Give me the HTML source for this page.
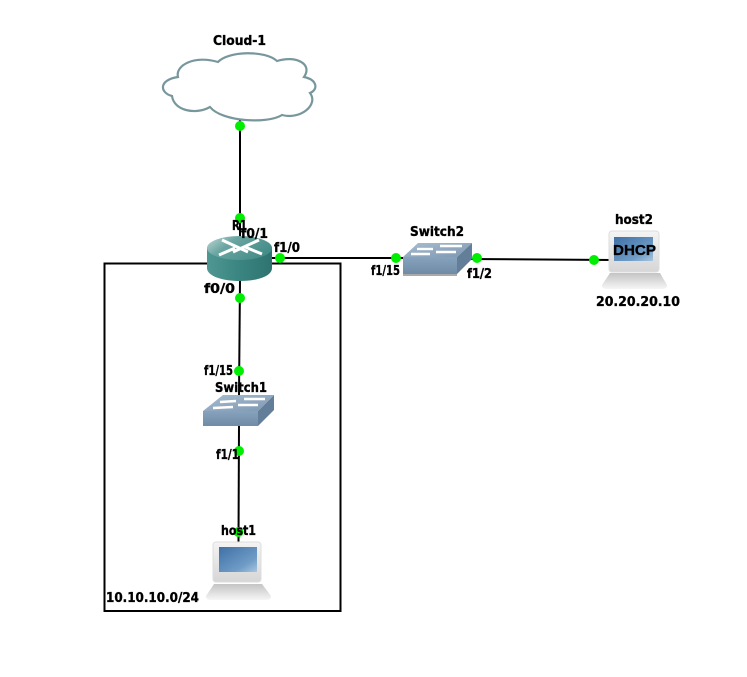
<!DOCTYPE html>
<html>
<head>
<meta charset="utf-8">
<style>
html,body{margin:0;padding:0;background:#fff}
svg{display:block}
text{font-family:"DejaVu Sans","Liberation Sans",sans-serif;font-weight:bold;font-size:13px;fill:#000;stroke:#000;stroke-width:0.35}
</style>
</head>
<body>
<svg width="747" height="677" viewBox="0 0 747 677" xmlns="http://www.w3.org/2000/svg">
<defs>
<linearGradient id="rtop" x1="0" y1="0" x2="1" y2="0.5"><stop offset="0" stop-color="#c2dad8"/><stop offset="0.4" stop-color="#6aa5a1"/><stop offset="1" stop-color="#458d89"/></linearGradient>
<linearGradient id="rside" x1="0" y1="0" x2="1" y2="0"><stop offset="0" stop-color="#4f9793"/><stop offset="0.5" stop-color="#3a8581"/><stop offset="1" stop-color="#2f7370"/></linearGradient>
<linearGradient id="stop" x1="0" y1="0" x2="1" y2="1"><stop offset="0" stop-color="#a8bdd0"/><stop offset="1" stop-color="#7d97b2"/></linearGradient>
<linearGradient id="sfront" x1="0" y1="0" x2="0" y2="1"><stop offset="0" stop-color="#86a2bc"/><stop offset="1" stop-color="#6f8ba5"/></linearGradient>
<linearGradient id="scr" x1="0" y1="0" x2="1" y2="1"><stop offset="0" stop-color="#3f70a6"/><stop offset="0.7" stop-color="#6f9cc6"/><stop offset="1" stop-color="#a9c6df"/></linearGradient>
<linearGradient id="mon" x1="0" y1="0" x2="0" y2="1"><stop offset="0" stop-color="#f4f4f4"/><stop offset="1" stop-color="#d6d6d6"/></linearGradient>
<linearGradient id="bas" x1="0" y1="0" x2="0" y2="1"><stop offset="0" stop-color="#c4c4c4"/><stop offset="1" stop-color="#f6f6f6"/></linearGradient>
</defs>

<rect x="104.500" y="263.500" width="236" height="347.500" fill="none" stroke="#000" stroke-width="2"/>

<g stroke="#000" stroke-width="2" fill="none">
<line x1="240" y1="119" x2="240" y2="250"/>
<line x1="240" y1="280" x2="239" y2="395"/>
<line x1="239" y1="425" x2="238.500" y2="542"/>
<line x1="270" y1="258" x2="405" y2="258"/>
<line x1="468" y1="259" x2="612" y2="260"/>
</g>

<path d="M172 96 C160 93 158 80 178 77 C175 65 195 55 218 62 C228 51 265 50 277 61 C296 55 313 64 304 77 C318 80 318 90 310 93 C319 105 300 120 282 115 C268 124 222 122 210 107 C196 115 174 111 172 96 Z" fill="#fff" stroke="#78979c" stroke-width="2.2"/>

<!-- router -->
<path d="M207 248 V268 C207 276 222 281 240 281 C258 281 272 276 272 268 V248 Z" fill="url(#rside)"/>
<ellipse cx="239.500" cy="248" rx="32.500" ry="12" fill="url(#rtop)"/>
<g stroke="#fff" stroke-width="3" fill="none">
<line x1="222" y1="240" x2="248" y2="252"/>
<line x1="259" y1="240" x2="233" y2="252"/>
<line x1="219" y1="255" x2="235" y2="248"/>
<line x1="262" y1="254" x2="245" y2="247"/>
</g>

<!-- switch2 -->
<path d="M403 257 H457 V274 H403 Z" fill="url(#sfront)"/>
<path d="M457 257 L472 243 V259 L457 274 Z" fill="#627e98"/>
<path d="M418 243 H472 L457 257 H403 Z" fill="url(#stop)"/>
<g stroke="#fff" stroke-width="2.400" fill="none">
<line x1="417" y1="249" x2="433" y2="249"/><line x1="440" y1="246" x2="462" y2="246"/>
<line x1="411" y1="254" x2="430" y2="254"/><line x1="436" y1="252" x2="456" y2="252"/>
</g>
<rect x="403" y="274" width="54" height="2" fill="#a9a9a9"/>

<!-- switch1 -->
<path d="M203 411 H258 V426 H203 Z" fill="url(#sfront)"/>
<path d="M258 411 L274 395 V410 L258 426 Z" fill="#627e98"/>
<path d="M223 395 H274 L258 411 H203 Z" fill="url(#stop)"/>
<g stroke="#fff" stroke-width="2.400" fill="none">
<line x1="220" y1="402" x2="236" y2="401"/><line x1="244" y1="399" x2="265" y2="399"/>
<line x1="213" y1="408" x2="233" y2="407"/><line x1="238" y1="405" x2="258" y2="405"/>
</g>

<!-- host2 -->
<rect x="609" y="231" width="50" height="41" rx="3" fill="url(#mon)" stroke="#ddd"/>
<rect x="614" y="237" width="39" height="24" fill="url(#scr)"/>
<path d="M610 273 H660 L667 285 Q667 289 663 289 H606 Q602 289 602 285 Z" fill="url(#bas)"/>

<!-- host1 -->
<rect x="213" y="542" width="48" height="40" rx="3" fill="url(#mon)" stroke="#ddd"/>
<rect x="219" y="547" width="38" height="25" fill="url(#scr)"/>
<path d="M214 584 H262 L271 596 Q271 600 267 600 H210 Q206 600 206 596 Z" fill="url(#bas)"/>

<g fill="#00ee00">
<circle cx="240" cy="126" r="5"/>
<circle cx="240" cy="218" r="5"/>
<circle cx="280" cy="258" r="5"/>
<circle cx="240" cy="298" r="5"/>
<circle cx="239" cy="371" r="5"/>
<circle cx="239" cy="451" r="5"/>
<circle cx="238.500" cy="532" r="5"/>
<circle cx="396" cy="258" r="5"/>
<circle cx="477" cy="258" r="5"/>
<circle cx="594" cy="260" r="5"/>
</g>

<text x="213" y="45" textLength="53" lengthAdjust="spacingAndGlyphs">Cloud-1</text>
<text x="232" y="230" textLength="15" lengthAdjust="spacingAndGlyphs">R1</text>
<text x="241" y="238" textLength="27" lengthAdjust="spacingAndGlyphs">f0/1</text>
<text x="274" y="252" textLength="26" lengthAdjust="spacingAndGlyphs">f1/0</text>
<text x="204" y="293" textLength="31" lengthAdjust="spacingAndGlyphs">f0/0</text>
<text x="410" y="236" textLength="54" lengthAdjust="spacingAndGlyphs">Switch2</text>
<text x="371" y="275" textLength="29" lengthAdjust="spacingAndGlyphs">f1/15</text>
<text x="467" y="278" textLength="25" lengthAdjust="spacingAndGlyphs">f1/2</text>
<text x="615" y="224" textLength="38" lengthAdjust="spacingAndGlyphs">host2</text>
<text x="613" y="255" textLength="43" lengthAdjust="spacingAndGlyphs" style="font-size:15px;font-family:'Liberation Sans',sans-serif">DHCP</text>
<text x="596" y="306" textLength="84" lengthAdjust="spacingAndGlyphs">20.20.20.10</text>
<text x="204" y="375" textLength="29" lengthAdjust="spacingAndGlyphs">f1/15</text>
<text x="215" y="392" textLength="52" lengthAdjust="spacingAndGlyphs">Switch1</text>
<text x="216" y="459" textLength="23" lengthAdjust="spacingAndGlyphs">f1/1</text>
<text x="221" y="535" textLength="35" lengthAdjust="spacingAndGlyphs">host1</text>
<text x="106" y="602" textLength="93" lengthAdjust="spacingAndGlyphs">10.10.10.0/24</text>
</svg>
</body>
</html>
